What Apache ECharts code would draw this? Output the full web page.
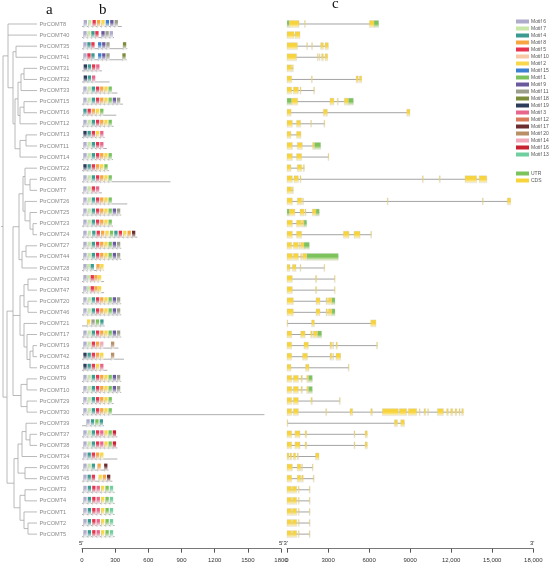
<!DOCTYPE html>
<html lang="en">
<head>
    <meta charset="utf-8">
    <title>PtrCOMT</title>
    <script src="https://cdn.jsdelivr.net/npm/echarts@6/dist/echarts.min.js"></script>
    <style>
        html, body { margin: 0; padding: 0; background: #fff; }
        #main { width: 550px; height: 569px; }
    </style>
</head>
<body>
<div id="main"></div>
<script type="text/javascript">
    // gene order (top to bottom)
    var geneNames = ['PtrCOMT8', 'PtrCOMT40', 'PtrCOMT35', 'PtrCOMT41', 'PtrCOMT31', 'PtrCOMT32', 'PtrCOMT33',
        'PtrCOMT15', 'PtrCOMT16', 'PtrCOMT12', 'PtrCOMT13', 'PtrCOMT11', 'PtrCOMT14', 'PtrCOMT22', 'PtrCOMT6',
        'PtrCOMT7', 'PtrCOMT26', 'PtrCOMT25', 'PtrCOMT23', 'PtrCOMT24', 'PtrCOMT27', 'PtrCOMT44', 'PtrCOMT28',
        'PtrCOMT43', 'PtrCOMT47', 'PtrCOMT20', 'PtrCOMT46', 'PtrCOMT21', 'PtrCOMT17', 'PtrCOMT19', 'PtrCOMT42',
        'PtrCOMT18', 'PtrCOMT9', 'PtrCOMT10', 'PtrCOMT29', 'PtrCOMT30', 'PtrCOMT39', 'PtrCOMT37', 'PtrCOMT38',
        'PtrCOMT34', 'PtrCOMT36', 'PtrCOMT45', 'PtrCOMT3', 'PtrCOMT4', 'PtrCOMT1', 'PtrCOMT2', 'PtrCOMT5'];

    // phylogeny: [x of node, children...], leaves are gene names
    var treeData = [3,
        [8, 'PtrCOMT8', 'PtrCOMT40',
            [13, [16, 'PtrCOMT35', 'PtrCOMT41'],
                [15,
                    [18, [21, [24, 'PtrCOMT31', 'PtrCOMT32'], 'PtrCOMT33'],
                        [20, [24, 'PtrCOMT15', 'PtrCOMT16'], 'PtrCOMT12']],
                    [20, [26, 'PtrCOMT13', 'PtrCOMT11'], 'PtrCOMT14']]]],
        [7,
            [13,
                [19,
                    [23, [25, 'PtrCOMT22', [30, 'PtrCOMT6', 'PtrCOMT7']],
                        [25, 'PtrCOMT26', [30, 'PtrCOMT25', [33, 'PtrCOMT23', 'PtrCOMT24']]]],
                    [22, [26, 'PtrCOMT27', 'PtrCOMT44'], 'PtrCOMT28']],
                [20,
                    [24, [28, 'PtrCOMT43', 'PtrCOMT47'], [28, 'PtrCOMT20', 'PtrCOMT46']],
                    [24, 'PtrCOMT21', [27, 'PtrCOMT17', [30, [33, 'PtrCOMT19', 'PtrCOMT42'], 'PtrCOMT18']]]],
                [21, [27, 'PtrCOMT9', 'PtrCOMT10'], [27, 'PtrCOMT29', 'PtrCOMT30']]],
            [14,
                [18, [22, [26, 'PtrCOMT39', [30, 'PtrCOMT37', 'PtrCOMT38']], 'PtrCOMT34'], [25, 'PtrCOMT36', 'PtrCOMT45']],
                [20, [25, 'PtrCOMT3', 'PtrCOMT4'], [24, 'PtrCOMT1', [28, 'PtrCOMT2', 'PtrCOMT5']]]]]];

    // motifs
    var motifNames = ['Motif 6', 'Motif 7', 'Motif 4', 'Motif 8', 'Motif 5', 'Motif 10', 'Motif 2', 'Motif 15',
        'Motif 1', 'Motif 9', 'Motif 11', 'Motif 18', 'Motif 19', 'Motif 3', 'Motif 12', 'Motif 17', 'Motif 20',
        'Motif 14', 'Motif 16', 'Motif 13'];
    var motifIds = [6, 7, 4, 8, 5, 10, 2, 15, 1, 9, 11, 18, 19, 3, 12, 17, 20, 14, 16, 13];
    var motifColors = ['#aeabcb', '#c8e6a6', '#3b9b90', '#f6a541', '#e8354f', '#f9c9a6', '#f8d84a', '#3d7fd0',
        '#7cc25c', '#6a5a9d', '#9b9f8c', '#7c8c3b', '#2e3c5c', '#e8658c', '#d97b5b', '#6b2d2d', '#b98f66',
        '#f1a9b9', '#c8212f', '#6fcf9f'];
    var motifW = 30;

    // protein length (aa)
    var proteinLen = [360, 290, 410, 405, 180, 250, 320, 370, 310, 285, 205, 225, 280, 245, 800,
        180, 410, 355, 280, 500, 355, 355, 200, 200, 200, 355, 355, 205, 355, 330, 380,
        230, 355, 355, 285, 1650, 200, 320, 320, 320, 240, 275, 295, 295, 295, 295, 295];

    // motif placements [motif id, start aa]
    var full9 = [[6, 12], [7, 50], [4, 88], [5, 126], [8, 164], [2, 202], [1, 240], [9, 278], [11, 316]];
    var full7 = [[6, 12], [7, 50], [4, 88], [5, 126], [8, 164], [2, 202], [1, 240]];
    var grp3 = [[6, 12], [4, 52], [5, 92], [3, 132], [2, 172], [1, 212], [13, 252]];
    var grp37 = [[6, 12], [7, 50], [4, 88], [5, 126], [3, 164], [2, 202], [1, 240], [16, 278]];
    var geneMotifs = [
        [[6, 15], [7, 55], [5, 95], [8, 135], [2, 175], [15, 215], [9, 255], [11, 295]],
        [[6, 12], [7, 48], [4, 84], [5, 120], [9, 175], [11, 212], [6, 250]],
        [[6, 12], [4, 48], [5, 84], [15, 145], [9, 182], [11, 220], [18, 370]],
        [[6, 12], [5, 48], [4, 84], [15, 145], [9, 182], [11, 220], [18, 365]],
        [[19, 15], [4, 52], [5, 90], [3, 128]],
        [[19, 15], [4, 52], [3, 90]],
        full7,
        full9,
        [[4, 12], [5, 50], [8, 88], [2, 126], [1, 164]],
        full7,
        [[19, 12], [4, 50], [5, 88], [2, 126], [3, 164]],
        [[6, 12], [7, 50], [4, 88], [5, 126], [3, 164]],
        full7,
        [[19, 12], [4, 50], [5, 88], [8, 126], [2, 164], [1, 202]],
        full7,
        [[6, 12], [7, 50], [5, 88], [3, 126]],
        full7,
        full9,
        full7,
        [[6, 12], [7, 52], [4, 92], [5, 132], [8, 172], [2, 212], [1, 252], [4, 292], [5, 332], [2, 372], [8, 412], [17, 452]],
        full9,
        full9,
        [[6, 12], [7, 45], [4, 78], [8, 130], [2, 165]],
        [[6, 12], [7, 45], [5, 78], [8, 111], [2, 144]],
        [[6, 12], [7, 45], [5, 78], [8, 111], [2, 144]],
        full9,
        full9,
        [[2, 45], [11, 85], [1, 125], [4, 165]],
        full9,
        [[6, 12], [7, 50], [5, 88], [8, 126], [14, 164], [20, 262]],
        [[19, 12], [4, 50], [5, 88], [8, 126], [2, 164], [20, 262]],
        [[19, 12], [4, 50], [5, 88], [2, 126], [3, 164]],
        full9,
        full9,
        full7,
        full7,
        [[6, 40], [4, 80], [1, 120], [4, 160]],
        grp37,
        grp37,
        [[6, 12], [4, 50], [5, 88], [8, 126], [2, 164]],
        [[6, 12], [7, 50], [4, 88], [8, 140], [17, 200]],
        [[6, 12], [4, 50], [5, 88], [2, 150], [8, 188], [17, 226]],
        grp3, grp3, grp3, grp3, grp3];

    // gene structure [start bp, end bp, 'C' = CDS | 'U' = UTR]
    var ex3 = [[0, 340, 'C'], [390, 710, 'C'], [830, 880, 'C'], [1630, 1680, 'C']];
    var ex20 = [[0, 460, 'C'], [2120, 2410, 'C'], [2850, 2950, 'C'], [3020, 3270, 'C'], [3270, 3510, 'U']];
    var ex9 = [[0, 340, 'C'], [460, 830, 'C'], [1020, 1120, 'C'], [1440, 1560, 'C'], [1560, 1850, 'U']];
    var ex37 = [[0, 340, 'C'], [580, 950, 'C'], [1320, 1440, 'C'], [4900, 4970, 'C'], [5700, 5870, 'C']];
    var ex43 = [[0, 390, 'C'], [2080, 2170, 'C'], [3460, 3510, 'C']];
    var geneExons = [
        [[0, 170, 'U'], [170, 880, 'C'], [1280, 1340, 'C'], [6020, 6360, 'C'], [6360, 6700, 'U']],
        [[0, 510, 'C'], [585, 950, 'C']],
        [[0, 760, 'C'], [1440, 1480, 'C'], [1800, 1840, 'C'], [2460, 2660, 'C'], [2780, 3020, 'C']],
        [[0, 700, 'C'], [2220, 2260, 'C'], [2360, 2420, 'C'], [2530, 2660, 'C'], [2780, 2970, 'C']],
        [[0, 340, 'C'], [390, 460, 'C']],
        [[0, 340, 'C'], [1780, 1850, 'C'], [5050, 5210, 'C'], [5290, 5460, 'C']],
        [[0, 340, 'C'], [460, 830, 'C'], [950, 1020, 'C'], [1950, 2000, 'C']],
        [[0, 340, 'U'], [340, 780, 'C'], [3140, 3430, 'C'], [3680, 3740, 'C'], [4190, 4480, 'C'], [4480, 4850, 'U']],
        [[0, 300, 'C'], [2650, 2950, 'C'], [8750, 8990, 'C']],
        [[0, 390, 'C'], [700, 1000, 'C'], [1730, 1790, 'C'], [2700, 2760, 'C']],
        [[0, 290, 'C'], [700, 1020, 'C']],
        [[0, 390, 'C'], [750, 1120, 'C'], [1870, 2000, 'C'], [2000, 2460, 'U']],
        [[0, 390, 'C'], [700, 1070, 'C'], [3000, 3060, 'C']],
        [[0, 290, 'C'], [750, 1070, 'C'], [1190, 1270, 'C']],
        [[0, 390, 'C'], [510, 830, 'C'], [950, 1020, 'C'], [9890, 9960, 'C'], [11130, 11200, 'C'], [13010, 13860, 'C'], [14040, 14600, 'C']],
        [[0, 340, 'C'], [390, 460, 'C']],
        [[0, 390, 'C'], [750, 1070, 'C'], [1140, 1190, 'C'], [7330, 7380, 'C'], [14280, 14340, 'C'], [16100, 16350, 'C']],
        [[0, 170, 'U'], [170, 580, 'C'], [950, 1240, 'C'], [1310, 1390, 'C'], [1850, 2120, 'C'], [2120, 2360, 'U']],
        [[0, 390, 'C'], [700, 1070, 'C'], [1120, 1240, 'C'], [1240, 1440, 'U']],
        [[0, 390, 'C'], [700, 1070, 'C'], [4120, 4530, 'C'], [4900, 5340, 'C'], [6120, 6170, 'C']],
        [[0, 340, 'C'], [460, 830, 'C'], [900, 950, 'C'], [1000, 1240, 'C'], [1240, 1630, 'U']],
        [[0, 390, 'C'], [460, 830, 'C'], [1000, 1070, 'C'], [1140, 1440, 'C'], [1440, 3750, 'U']],
        [[0, 220, 'C'], [390, 660, 'C'], [950, 1000, 'C'], [2700, 2750, 'C']],
        ex43, ex43, ex20, ex20,
        [[0, 50, 'C'], [1800, 2000, 'C'], [6120, 6500, 'C']],
        [[0, 340, 'C'], [1000, 1320, 'C'], [1730, 1850, 'C'], [1920, 2220, 'C'], [2220, 2530, 'U']],
        [[0, 340, 'C'], [1240, 1560, 'C'], [3140, 3270, 'C'], [3340, 3390, 'C'], [3580, 3680, 'C'], [6550, 6600, 'C']],
        [[0, 340, 'C'], [1140, 1490, 'C'], [3140, 3270, 'C'], [3340, 3390, 'C'], [3580, 3920, 'C']],
        [[0, 290, 'C'], [1360, 1610, 'C'], [4480, 4530, 'C']],
        ex9, ex9,
        [[0, 340, 'C'], [460, 830, 'C'], [1750, 1850, 'C'], [3830, 3880, 'C']],
        [[0, 340, 'C'], [460, 830, 'C'], [2830, 2900, 'C'], [4600, 4800, 'C'], [6120, 6240, 'C'], [6970, 8140, 'C'],
            [8210, 8750, 'C'], [8870, 9480, 'C'], [9670, 9720, 'C'], [10010, 10130, 'C'], [10280, 10330, 'C'],
            [10990, 11430, 'C'], [11670, 11790, 'C'], [11960, 12110, 'C'], [12280, 12410, 'C'], [12570, 12650, 'C'], [12770, 12890, 'C']],
        [[0, 50, 'C'], [7850, 8070, 'C'], [8310, 8580, 'C']],
        ex37, ex37,
        [[0, 150, 'C'], [220, 340, 'C'], [460, 630, 'C'], [750, 830, 'C'], [2080, 2340, 'C']],
        [[0, 390, 'C'], [750, 1000, 'C'], [1070, 1120, 'C'], [1850, 1900, 'C']],
        [[0, 340, 'C'], [750, 1000, 'C'], [1070, 1190, 'C'], [1920, 1980, 'C']],
        ex3, ex3, ex3, ex3, ex3];

    var geneTickLabels = {0: '0', 3000: '3000', 6000: '6000', 9000: '9000', 12000: '12,000', 15000: '15,000', 18000: '18,000'};

    var rowTop = 18.45, rowH = 11.09, nRows = geneNames.length;
    var font = 'Liberation Sans, Arial, sans-serif';

    // tree segments
    var leafX = 37;
    var treeSegs = [];
    function layout(node, px) {
        if (typeof node === 'string') {
            var r = geneNames.indexOf(node);
            treeSegs.push([px, r, leafX, r]);
            return r;
        }
        var ys = [];
        for (var i = 1; i < node.length; i++) ys.push(layout(node[i], node[0]));
        var y0 = ys[0], y1 = ys[ys.length - 1];
        treeSegs.push([node[0], y0, node[0], y1]);
        var ym = (y0 + y1) / 2;
        treeSegs.push([px == null ? 1 : px, ym, node[0], ym]);
        return ym;
    }
    layout(treeData, null);

    function fade(c) {
        return new echarts.graphic.LinearGradient(0, 0, 0, 1, [
            {offset: 0, color: c}, {offset: 0.35, color: c}, {offset: 1, color: '#f7f7f7'}
        ]);
    }

    var yAxisBase = {type: 'value', min: -0.5, max: nRows - 0.5, inverse: true, show: false};
    function grid(left, width) {
        return {left: left, width: width, top: rowTop, height: rowH * nRows};
    }
    function xAxisBase(idx, max, interval, fmt) {
        return {
            gridIndex: idx, type: 'value', min: 0, max: max, interval: interval, position: 'bottom', offset: 9,
            axisLine: {show: true, onZero: false, lineStyle: {color: '#555', width: 0.8}},
            axisTick: {show: true, length: 4, lineStyle: {color: '#555', width: 1}},
            axisLabel: {fontSize: 6, color: '#333', margin: 9, fontFamily: font, formatter: fmt,
                showMinLabel: true, showMaxLabel: true},
            splitLine: {show: false}
        };
    }

    var series = [];

    // tree
    series.push({
        type: 'custom', xAxisIndex: 0, yAxisIndex: 0, data: treeSegs, silent: true,
        renderItem: function (params, api) {
            var a = api.coord([api.value(0), api.value(1)]);
            var b = api.coord([api.value(2), api.value(3)]);
            return {type: 'line', shape: {x1: a[0], y1: a[1], x2: b[0], y2: b[1]},
                style: {stroke: '#a8a8a8', lineWidth: 0.8}};
        }
    });
    // gene labels
    series.push({
        type: 'custom', xAxisIndex: 0, yAxisIndex: 0, silent: true,
        data: geneNames.map(function (n, i) { return [leafX, i]; }),
        renderItem: function (params, api) {
            var p = api.coord([api.value(0), api.value(1)]);
            return {type: 'text', style: {x: p[0] + 2.5, y: p[1], text: geneNames[params.dataIndex],
                fill: '#8a8a8a', fontSize: 5.6, fontFamily: font, verticalAlign: 'middle'}};
        }
    });
    // protein backbone
    series.push({
        type: 'custom', xAxisIndex: 1, yAxisIndex: 1, silent: true,
        data: proteinLen.map(function (l, i) { return [i, 0, l]; }),
        renderItem: function (params, api) {
            var a = api.coord([api.value(1), api.value(0)]);
            var b = api.coord([api.value(2), api.value(0)]);
            return {type: 'line', shape: {x1: a[0], y1: a[1] + 2.5, x2: b[0], y2: b[1] + 2.5},
                style: {stroke: '#9a9a9a', lineWidth: 0.8}};
        }
    });
    // motifs, one series per motif
    motifIds.forEach(function (id, k) {
        var d = [];
        geneMotifs.forEach(function (list, r) {
            list.forEach(function (m) { if (m[0] === id) d.push([r, m[1], m[1] + motifW]); });
        });
        series.push({
            name: motifNames[k], type: 'custom', xAxisIndex: 1, yAxisIndex: 1, data: d, silent: true,
            itemStyle: {color: motifColors[k]},
            renderItem: function (params, api) {
                var a = api.coord([api.value(1), api.value(0)]);
                var b = api.coord([api.value(2), api.value(0)]);
                return {type: 'group', children: [
                    {type: 'rect', shape: {x: a[0], y: a[1] - 4, width: b[0] - a[0], height: 7},
                        style: {fill: fade(motifColors[k])}},
                    {type: 'line', shape: {x1: a[0] + 0.3, y1: a[1] - 1, x2: a[0] + 0.3, y2: a[1] + 4},
                        style: {stroke: '#b5b5b5', lineWidth: 0.5}}
                ]};
            }
        });
    });
    // introns
    series.push({
        type: 'custom', xAxisIndex: 2, yAxisIndex: 2, silent: true,
        data: geneExons.map(function (ex, i) { return [i, 0, ex[ex.length - 1][1]]; }),
        renderItem: function (params, api) {
            var a = api.coord([api.value(1), api.value(0)]);
            var b = api.coord([api.value(2), api.value(0)]);
            return {type: 'line', shape: {x1: a[0], y1: a[1], x2: b[0], y2: b[1]},
                style: {stroke: '#9a9a9a', lineWidth: 0.9}};
        }
    });
    // exons
    [['UTR', 'U', '#7cc35c'], ['CDS', 'C', '#f8d43c']].forEach(function (t) {
        var d = [];
        geneExons.forEach(function (ex, r) {
            ex.forEach(function (e) { if (e[2] === t[1]) d.push([r, e[0], e[1]]); });
        });
        series.push({
            name: t[0], type: 'custom', xAxisIndex: 2, yAxisIndex: 2, data: d, silent: true,
            itemStyle: {color: t[2]},
            renderItem: function (params, api) {
                var a = api.coord([api.value(1), api.value(0)]);
                var b = api.coord([api.value(2), api.value(0)]);
                return {type: 'rect', shape: {x: a[0], y: a[1] - 3.5, width: Math.max(b[0] - a[0], 0.8), height: 7},
                    style: {fill: new echarts.graphic.LinearGradient(0, 0, 0, 1, [
                        {offset: 0, color: t[2]}, {offset: 0.5, color: t[2]}, {offset: 1, color: '#fbf6e0'}]),
                        stroke: '#c9c9c9', lineWidth: 0.3}};
            }
        });
    });

    var myChart = echarts.init(document.getElementById('main'));
    myChart.setOption({
        animation: false,
        grid: [grid(0, 40), grid(82, 199), grid(287, 246.3)],
        xAxis: [
            {gridIndex: 0, type: 'value', min: 0, max: 40, show: false},
            xAxisBase(1, 1800, 300, function (v) { return String(v); }),
            xAxisBase(2, 18000, 3000, function (v) { return geneTickLabels[v]; })
        ],
        yAxis: [
            Object.assign({gridIndex: 0}, yAxisBase),
            Object.assign({gridIndex: 1}, yAxisBase),
            Object.assign({gridIndex: 2}, yAxisBase)
        ],
        legend: [
            {data: motifNames, orient: 'vertical', left: 511, top: 14, itemWidth: 13, itemHeight: 4, itemGap: 2.0,
                icon: 'rect', selectedMode: false,
                textStyle: {fontSize: 5, lineHeight: 5, color: '#555', fontFamily: font, padding: [0, 0, 0, -3]}},
            {data: ['UTR', 'CDS'], orient: 'vertical', left: 511, top: 166, itemWidth: 13, itemHeight: 4, itemGap: 2.0,
                icon: 'rect', selectedMode: false,
                textStyle: {fontSize: 5, lineHeight: 5, color: '#555', fontFamily: font, padding: [0, 0, 0, -3]}}
        ],
        graphic: [
            {type: 'text', left: 46, top: 3, style: {text: 'a', fontSize: 15, fontFamily: 'Liberation Serif, serif', fill: '#111'}},
            {type: 'text', left: 99, top: 3, style: {text: 'b', fontSize: 15, fontFamily: 'Liberation Serif, serif', fill: '#111'}},
            {type: 'text', left: 332, top: -3, style: {text: 'c', fontSize: 15, fontFamily: 'Liberation Serif, serif', fill: '#111'}},
            {type: 'text', left: 79, top: 540, style: {text: "5'", fontSize: 6, fontFamily: font, fill: '#333'}},
            {type: 'text', left: 279, top: 540, style: {text: "5'3'", fontSize: 6, fontFamily: font, fill: '#333'}},
            {type: 'text', left: 530, top: 540, style: {text: "3'", fontSize: 6, fontFamily: font, fill: '#333'}}
        ],
        series: series
    });
</script>
</body>
</html>
